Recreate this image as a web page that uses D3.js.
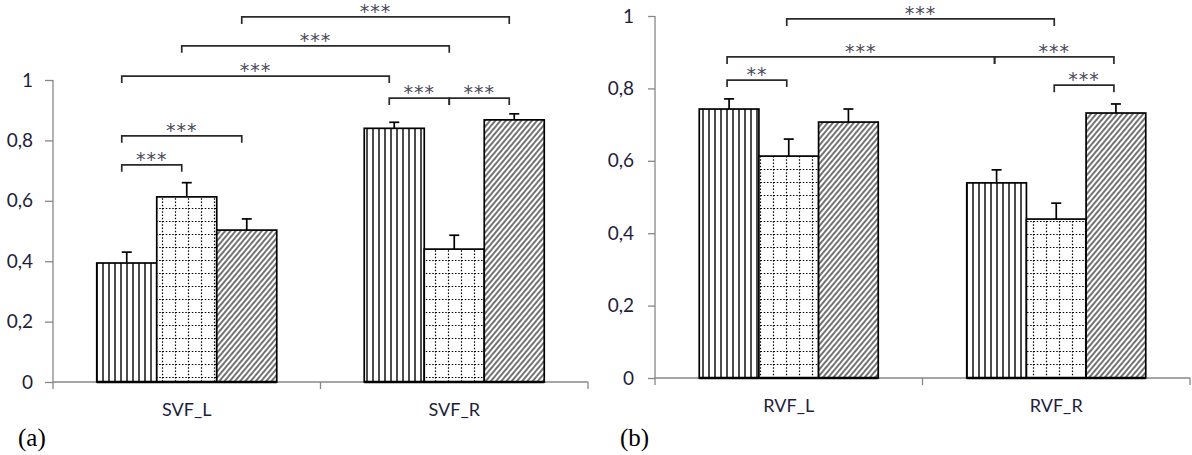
<!DOCTYPE html>
<html>
<head>
<meta charset="utf-8">
<script src="https://cdn.jsdelivr.net/npm/d3@7"></script>
<style>
  html, body { margin: 0; padding: 0; background: #fff; }
  svg { display: block; }
</style>
</head>
<body>
<svg id="chart" width="1192" height="455"></svg>
<script>
// ---------------- DATA ----------------
const seriesKeys = ["vertical", "grid", "hatch"];
const yTickValues = [0, 0.2, 0.4, 0.6, 0.8, 1];

// Panel (a)
const categoriesA = ["SVF_L", "SVF_R"];
const verticalA = [0.394, 0.840];
const gridA     = [0.613, 0.440];
const hatchA    = [0.503, 0.868];
const verticalErrA = [0.036, 0.020];
const gridErrA     = [0.047, 0.046];
const hatchErrA    = [0.037, 0.020];
// significance: [cat1, series1, cat2, series2, level (data units), label]
const sigA = [
  ["SVF_L", "hatch", "SVF_R", "hatch", 1.209, "***"],
  ["SVF_L", "grid", "SVF_R", "grid", 1.113, "***"],
  ["SVF_L", "vertical", "SVF_R", "vertical", 1.013, "***"],
  ["SVF_L", "vertical", "SVF_L", "hatch", 0.815, "***"],
  ["SVF_L", "vertical", "SVF_L", "grid", 0.719, "***"],
  ["SVF_R", "vertical", "SVF_R", "grid", 0.940, "***"],
  ["SVF_R", "grid", "SVF_R", "hatch", 0.940, "***"]
];

// Panel (b)
const categoriesB = ["RVF_L", "RVF_R"];
const verticalB = [0.743, 0.539];
const gridB     = [0.613, 0.439];
const hatchB    = [0.707, 0.732];
const verticalErrB = [0.028, 0.036];
const gridErrB     = [0.047, 0.044];
const hatchErrB    = [0.036, 0.025];
const sigB = [
  ["RVF_L", "grid", "RVF_R", "grid", 0.992, "***"],
  ["RVF_L", "vertical", "RVF_R", "vertical", 0.887, "***"],
  ["RVF_R", "vertical", "RVF_R", "hatch", 0.887, "***"],
  ["RVF_L", "vertical", "RVF_L", "grid", 0.823, "**"],
  ["RVF_R", "grid", "RVF_R", "hatch", 0.809, "***"]
];

// ---------------- DRAW ----------------
const svg = d3.select("#chart");
const defs = svg.append("defs");

// vertical lines pattern
const pV = defs.append("pattern").attr("id", "pat-vertical")
  .attr("patternUnits", "userSpaceOnUse").attr("width", 6).attr("height", 10);
pV.append("rect").attr("width", 6).attr("height", 10).attr("fill", "#fff");
pV.append("line").attr("x1", 1).attr("x2", 1).attr("y1", 0).attr("y2", 10)
  .attr("stroke", "#000").attr("stroke-width", 1.4);

// dotted grid pattern
const gs = 13;
const pG = defs.append("pattern").attr("id", "pat-grid")
  .attr("patternUnits", "userSpaceOnUse").attr("width", gs).attr("height", gs);
pG.append("rect").attr("width", gs).attr("height", gs).attr("fill", "#fff");
pG.append("line").attr("x1", 0).attr("x2", gs).attr("y1", 0.5).attr("y2", 0.5)
  .attr("stroke", "#000").attr("stroke-width", 1.2).attr("stroke-dasharray", "1.5,1.75");
pG.append("line").attr("x1", 6.5).attr("x2", 6.5).attr("y1", 0).attr("y2", gs)
  .attr("stroke", "#000").attr("stroke-width", 1.2).attr("stroke-dasharray", "1.5,1.75");

// diagonal hatch pattern
const pH = defs.append("pattern").attr("id", "pat-hatch")
  .attr("patternUnits", "userSpaceOnUse").attr("width", 4).attr("height", 10)
  .attr("patternTransform", "rotate(40)");
pH.append("rect").attr("width", 4).attr("height", 10).attr("fill", "#fff");
pH.append("line").attr("x1", 1).attr("x2", 1).attr("y1", 0).attr("y2", 10)
  .attr("stroke", "#000").attr("stroke-width", 1.1);

const tickFont = "Lato, 'Open Sans', sans-serif";
const axisColor = "#878787";

function drawPanel(cfg) {
  const g = svg.append("g");
  const x0 = d3.scaleBand().domain(cfg.categories).range([cfg.left, cfg.right]);
  const bw = x0.bandwidth();
  const groupW = cfg.groupWidth;
  const x1 = d3.scaleBand().domain(seriesKeys).range([bw / 2 - groupW / 2, bw / 2 + groupW / 2]);
  const y = d3.scaleLinear().domain([0, 1]).range([cfg.bottom, cfg.top]);

  // y axis
  const yAxis = d3.axisLeft(y).tickValues(yTickValues)
    .tickFormat(d => d3.format("")(d).replace(".", ","))
    .tickSize(cfg.tickLen).tickPadding(cfg.tickPad);
  const ya = g.append("g").attr("transform", `translate(${cfg.left},0)`).call(yAxis);
  ya.select(".domain").attr("stroke", axisColor).attr("stroke-width", 1.3)
    .attr("d", `M0,${y(0)}V${y(1)}`);
  ya.selectAll(".tick line").attr("stroke", axisColor).attr("stroke-width", 1.3);
  ya.selectAll(".tick text").attr("font-family", tickFont).attr("font-size", 19)
    .attr("fill", "#1e1e3c");

  // x axis line with boundary ticks
  g.append("line").attr("x1", cfg.left).attr("x2", cfg.right)
    .attr("y1", y(0)).attr("y2", y(0)).attr("stroke", axisColor).attr("stroke-width", 1.3);
  const bounds = cfg.categories.map(c => x0(c)).concat([x0(cfg.categories[cfg.categories.length - 1]) + bw]);
  g.selectAll(".xb").data(bounds).enter().append("line")
    .attr("x1", d => d).attr("x2", d => d)
    .attr("y1", y(0)).attr("y2", y(0) + 7)
    .attr("stroke", axisColor).attr("stroke-width", 1.3);

  // category labels
  g.selectAll(".xl").data(cfg.categories).enter().append("text")
    .attr("x", d => x0(d) + bw / 2).attr("y", cfg.bottom + 34)
    .attr("text-anchor", "middle").attr("font-family", tickFont).attr("font-size", 18)
    .attr("fill", "#1e1e3c").text(d => d);

  // bars
  const rows = [];
  cfg.categories.forEach((c, i) => {
    seriesKeys.forEach(s => {
      rows.push({ cat: c, key: s, value: cfg.values[s][i], err: cfg.errors[s][i] });
    });
  });
  const bars = g.selectAll(".bar").data(rows).enter().append("g");
  bars.append("rect")
    .attr("x", d => x0(d.cat) + x1(d.key))
    .attr("y", d => y(d.value))
    .attr("width", x1.bandwidth())
    .attr("height", d => y(0) - y(d.value))
    .attr("fill", d => `url(#pat-${d.key})`)
    .attr("stroke", "#000").attr("stroke-width", 1.7);
  // error bars (upper only)
  bars.append("line")
    .attr("x1", d => x0(d.cat) + x1(d.key) + x1.bandwidth() / 2)
    .attr("x2", d => x0(d.cat) + x1(d.key) + x1.bandwidth() / 2)
    .attr("y1", d => y(d.value)).attr("y2", d => y(d.value + d.err))
    .attr("stroke", "#000").attr("stroke-width", 1.7);
  bars.append("line")
    .attr("x1", d => x0(d.cat) + x1(d.key) + x1.bandwidth() / 2 - 5)
    .attr("x2", d => x0(d.cat) + x1(d.key) + x1.bandwidth() / 2 + 5)
    .attr("y1", d => y(d.value + d.err)).attr("y2", d => y(d.value + d.err))
    .attr("stroke", "#000").attr("stroke-width", 1.7);
  // thick baseline under bars
  cfg.categories.forEach(c => {
    g.append("line")
      .attr("x1", x0(c) + x1(seriesKeys[0])).attr("x2", x0(c) + x1(seriesKeys[2]) + x1.bandwidth())
      .attr("y1", y(0)).attr("y2", y(0)).attr("stroke", "#000").attr("stroke-width", 2.4);
  });

  // significance brackets
  const cx = (c, s) => x0(c) + x1(s) + x1.bandwidth() / 2 + cfg.bracketOffset;
  const br = g.selectAll(".sig").data(cfg.sig).enter().append("g");
  br.append("path")
    .attr("d", d => {
      const xa = cx(d[0], d[1]), xb = cx(d[2], d[3]), yy = y(d[4]);
      return `M${xa},${yy + 7}V${yy}H${xb}V${yy + 7}`;
    })
    .attr("fill", "none").attr("stroke", "#2a2a2a").attr("stroke-width", 1.7);
  br.append("text")
    .attr("x", d => (cx(d[0], d[1]) + cx(d[2], d[3])) / 2)
    .attr("y", d => y(d[4]) + 1)
    .attr("text-anchor", "middle").attr("font-family", "'DejaVu Sans', sans-serif").attr("font-size", 19)
    .attr("letter-spacing", 1).attr("fill", "#4a4a5a").text(d => d[5]);

  // panel label
  svg.append("text").attr("x", cfg.labelX).attr("y", 446)
    .attr("font-family", "'Liberation Serif', 'Times New Roman', serif").attr("font-size", 25)
    .attr("fill", "#000").text(cfg.label);
}

drawPanel({
  categories: categoriesA, left: 53, right: 588, top: 80, bottom: 382, groupWidth: 180,
  tickLen: 8, tickPad: 12, bracketOffset: -5, labelX: 18, label: "(a)",
  values: { vertical: verticalA, grid: gridA, hatch: hatchA },
  errors: { vertical: verticalErrA, grid: gridErrA, hatch: hatchErrA },
  sig: sigA
});
drawPanel({
  categories: categoriesB, left: 655, right: 1190, top: 16, bottom: 378, groupWidth: 179,
  tickLen: 7, tickPad: 14, bracketOffset: -2, labelX: 620, label: "(b)",
  values: { vertical: verticalB, grid: gridB, hatch: hatchB },
  errors: { vertical: verticalErrB, grid: gridErrB, hatch: hatchErrB },
  sig: sigB
});
</script>
</body>
</html>
